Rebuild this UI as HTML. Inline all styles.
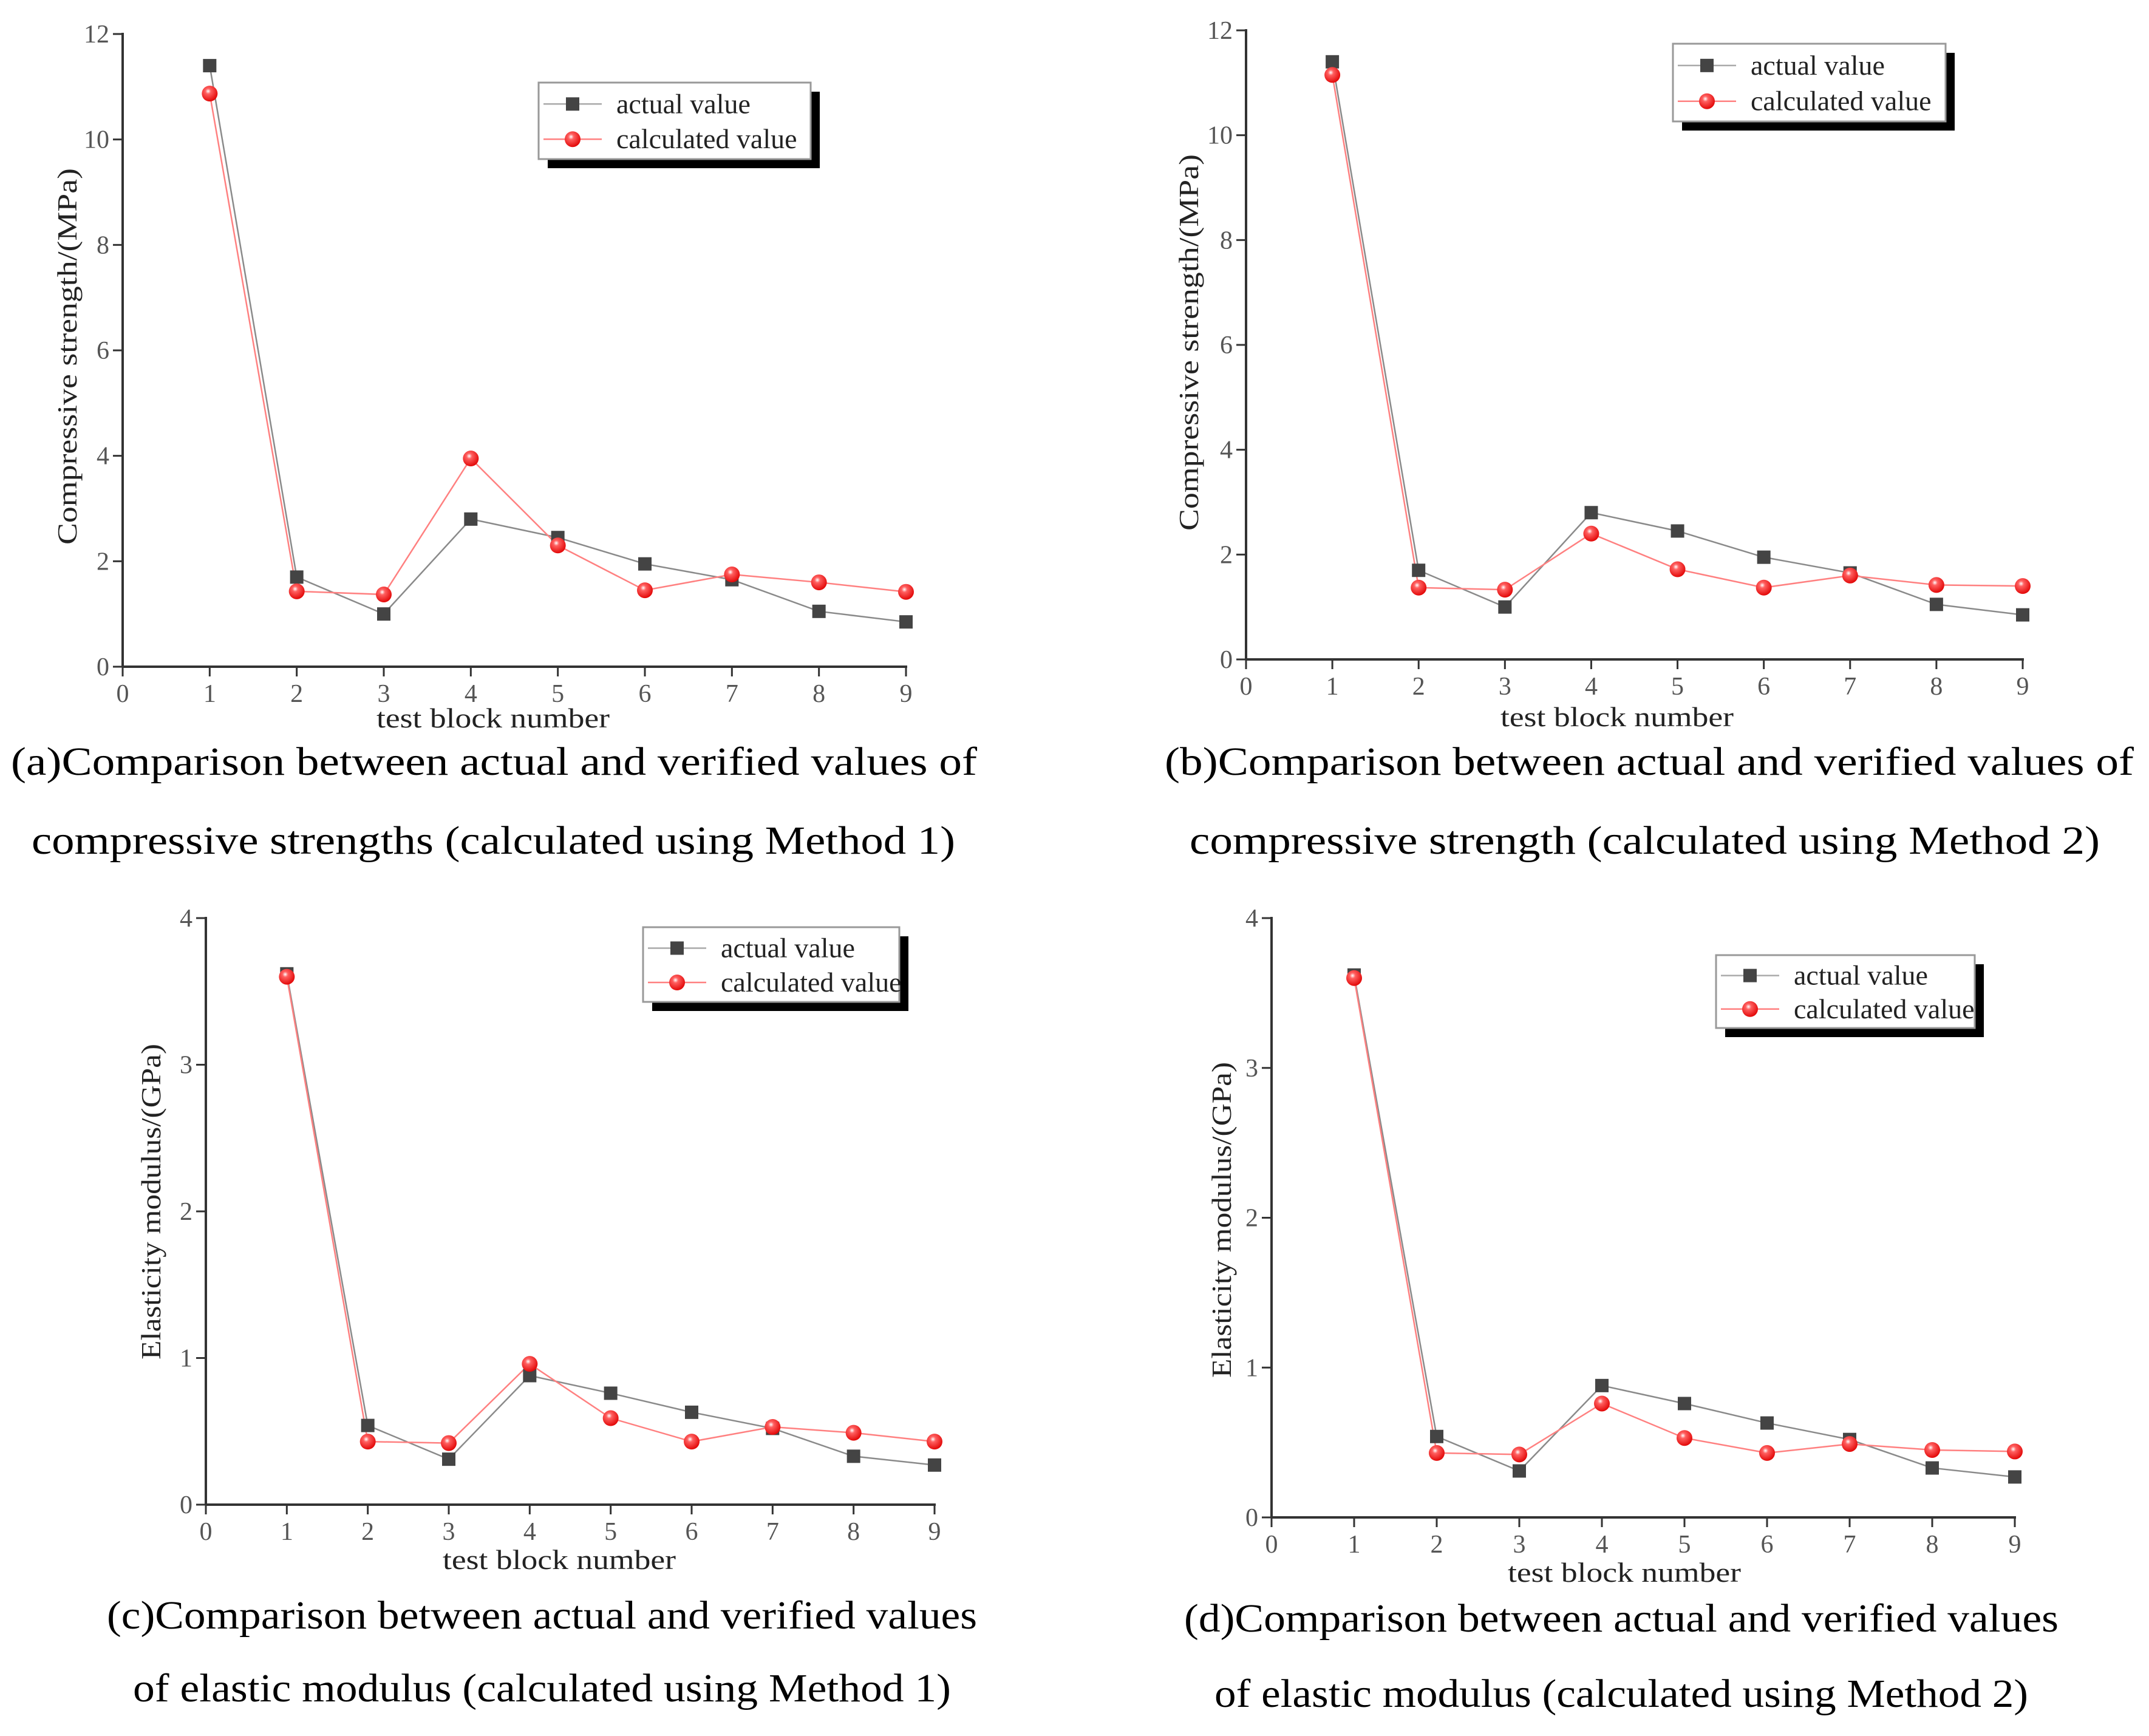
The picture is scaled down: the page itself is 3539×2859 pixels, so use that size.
<!DOCTYPE html>
<html><head><meta charset="utf-8">
<style>
html,body{margin:0;padding:0;background:#fff;}
svg{display:block;}
svg text{font-family:"Liberation Serif","Times New Roman",serif;}
</style></head>
<body>
<svg id="fig" width="3539" height="2859" viewBox="0 0 3539 2859" xmlns="http://www.w3.org/2000/svg" font-family="'Liberation Serif', serif">
<defs>
<radialGradient id="rg" cx="0.4" cy="0.35" r="0.7">
<stop offset="0" stop-color="#fff"/><stop offset="0.25" stop-color="#ff6060"/><stop offset="1" stop-color="#e00000"/>
</radialGradient>
</defs>
</svg>
<script>
// Data
const categories = [1,2,3,4,5,6,7,8,9];
const xTicks = [0,1,2,3,4,5,6,7,8,9];
const yTicksStrength = [0,2,4,6,8,10,12];
const yTicksModulus = [0,1,2,3,4];
const actualStrength = [11.4,1.7,1.0,2.8,2.45,1.95,1.65,1.05,0.85];
const calcStrengthM1 = [10.87,1.43,1.37,3.95,2.3,1.45,1.75,1.6,1.42];
const calcStrengthM2 = [11.15,1.37,1.33,2.4,1.72,1.37,1.6,1.42,1.4];
const actualModulus = [3.62,0.54,0.31,0.88,0.76,0.63,0.52,0.33,0.27];
const calcModulusM1 = [3.6,0.43,0.42,0.96,0.59,0.43,0.53,0.49,0.43];
const calcModulusM2 = [3.6,0.43,0.42,0.76,0.53,0.43,0.49,0.45,0.44];

const NS="http://www.w3.org/2000/svg";
const svg=document.getElementById('fig');
function mk(tag,attrs,parent,txt){const e=document.createElementNS(NS,tag);for(const k in attrs)e.setAttribute(k,attrs[k]);if(txt!==undefined)e.textContent=txt;(parent||svg).appendChild(e);return e;}

const panels=[
 {id:'a',x0:202,x9:1492,y0:1098,yT:56,yMax:12,yt:yTicksStrength,act:actualStrength,calc:calcStrengthM1,
  lg:[887,136,448,126],ytitle:'Compressive strength/(MPa)',ytx:110,yty:587,ytl:620,xtx:812,xty:1198,
  cap:['(a)Comparison between actual and verified values of','compressive strengths (calculated using Method 1)'],
  c1:[18,1276,1591],c2:[52,1406,1521]},
 {id:'b',x0:2052,x9:3331,y0:1086,yT:50,yMax:12,yt:yTicksStrength,act:actualStrength,calc:calcStrengthM2,
  lg:[2755,72,449,128],ytitle:'Compressive strength/(MPa)',ytx:1957,yty:564,ytl:620,xtx:2663,xty:1196,
  cap:['(b)Comparison between actual and verified values of','compressive strength (calculated using Method 2)'],
  c1:[1918,1276,1596],c2:[1959,1406,1499]},
 {id:'c',x0:339,x9:1539,y0:2478,yT:1512,yMax:4,yt:yTicksModulus,act:actualModulus,calc:calcModulusM1,
  lg:[1059,1527,422,123],ytitle:'Elasticity modulus/(GPa)',ytx:248,yty:1979,ytl:520,xtx:921,xty:2584,
  cap:['(c)Comparison between actual and verified values','of elastic modulus (calculated using Method 1)'],
  c1:[176,2682,1433],c2:[219,2802,1347]},
 {id:'d',x0:2094,x9:3318,y0:2499,yT:1512,yMax:4,yt:yTicksModulus,act:actualModulus,calc:calcModulusM2,
  lg:[2826,1573,426,120],ytitle:'Elasticity modulus/(GPa)',ytx:2011,yty:2009,ytl:520,xtx:2675,xty:2605,
  cap:['(d)Comparison between actual and verified values','of elastic modulus (calculated using Method 2)'],
  c1:[1950,2687,1440],c2:[2000,2811,1340]}
];

panels.forEach(p=>{
  const g=mk('g',{});
  
  
  const X=v=>p.x0+(p.x9-p.x0)*v/9;
  const Y=v=>p.y0-(p.y0-p.yT)*v/p.yMax;
  const ya=mk('line',{x1:p.x0,y1:p.yT-2,x2:p.x0,y2:p.y0,stroke:'#333','stroke-width':4},g);
  
  
  const xa=mk('line',{x1:p.x0,y1:p.y0,x2:p.x9+2,y2:p.y0,stroke:'#333','stroke-width':4},g);
  
  
  xTicks.forEach(t=>{
    mk('line',{x1:X(t),y1:p.y0,x2:X(t),y2:p.y0+16,stroke:'#333','stroke-width':3},g);
    const tl=mk('text',{x:X(t),y:p.y0+58,'font-size':42,fill:'#555','text-anchor':'middle'},g,String(t));
    
    
  });
  p.yt.forEach(t=>{
    mk('line',{x1:p.x0-16,y1:Y(t),x2:p.x0,y2:Y(t),stroke:'#333','stroke-width':3},g);
    const tl=mk('text',{x:p.x0-22,y:Y(t)+14,'font-size':42,fill:'#555','text-anchor':'end'},g,String(t));
    
    
  });
  const yt=mk('text',{x:0,y:0,'font-size':46,fill:'#222','text-anchor':'middle',transform:`translate(${p.ytx+16},${p.yty}) rotate(-90)`,textLength:p.ytl,lengthAdjust:'spacingAndGlyphs'},g,p.ytitle);
  
  
  const xt=mk('text',{x:p.xtx,y:p.xty,'font-size':46,fill:'#222','text-anchor':'middle',textLength:384,lengthAdjust:'spacingAndGlyphs'},g,'test block number');
  
  
  const pa=categories.map((c,i)=>X(c)+','+Y(p.act[i])).join(' ');
  const l1=mk('polyline',{points:pa,fill:'none',stroke:'#8a8a8a','stroke-width':2.5},g);
  
  
  const pc=categories.map((c,i)=>X(c)+','+Y(p.calc[i])).join(' ');
  const l2=mk('polyline',{points:pc,fill:'none',stroke:'#ff8080','stroke-width':2.5},g);
  
  
  categories.forEach((c,i)=>{
    const s=mk('rect',{x:X(c)-11,y:Y(p.act[i])-11,width:22,height:22,fill:'#444'},g);
    
    
  });
  categories.forEach((c,i)=>{
    const s=mk('circle',{cx:X(c),cy:Y(p.calc[i]),r:13,fill:'url(#rg)'},g);
    
    
  });
  const [lx,ly,lw,lh]=p.lg;
  const lgG=mk('g',{},g);
  
  
  mk('rect',{x:lx+15,y:ly+15,width:lw,height:lh,fill:'#000'},lgG);
  mk('rect',{x:lx,y:ly,width:lw,height:lh,fill:'#fff',stroke:'#999','stroke-width':3},lgG);
  const r1=ly+lh*0.28, r2=ly+lh*0.74;
  mk('line',{x1:lx+8,y1:r1,x2:lx+104,y2:r1,stroke:'#aaa','stroke-width':2.5},lgG);
  mk('rect',{x:lx+45,y:r1-11,width:22,height:22,fill:'#444'},lgG);
  mk('line',{x1:lx+8,y1:r2,x2:lx+104,y2:r2,stroke:'#ff8080','stroke-width':2.5},lgG);
  mk('circle',{cx:lx+56,cy:r2,r:13,fill:'url(#rg)'},lgG);
  const e1=mk('text',{x:lx+128,y:r1+15,'font-size':46,fill:'#222'},lgG,'actual value');
  
  
  const e2=mk('text',{x:lx+128,y:r2+15,'font-size':46,fill:'#222'},lgG,'calculated value');
  
  
  const cp1=mk('text',{x:p.c1[0],y:p.c1[1],'font-size':66,fill:'#000',textLength:p.c1[2],lengthAdjust:'spacingAndGlyphs'},g,p.cap[0]);
  
  
  const cp2=mk('text',{x:p.c2[0],y:p.c2[1],'font-size':66,fill:'#000',textLength:p.c2[2],lengthAdjust:'spacingAndGlyphs'},g,p.cap[1]);
  
  
});
</script>
</body></html>
